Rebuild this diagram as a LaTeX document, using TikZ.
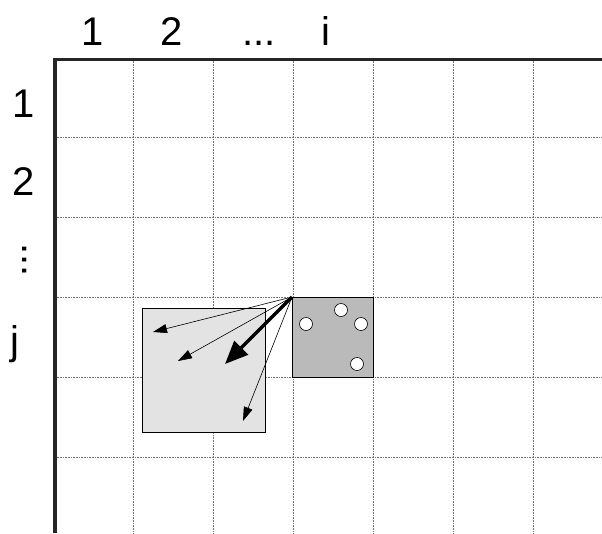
\documentclass[tikz,border=0pt]{standalone}
\usepackage{fontspec}
\setmainfont{Liberation Sans}
\usetikzlibrary{arrows.meta}
\begin{document}
\begin{tikzpicture}[x=1pt,y=-1pt,
  lbl/.style={inner sep=0pt,anchor=base,font=\fontsize{40}{40}\selectfont},
  gridline/.style={densely dotted,line width=0.6pt,black!55},
  axisline/.style={line width=3.5pt,black!85},
  thinarrow/.style={line width=0.6pt,-{Triangle[length=14pt,width=9pt]}},
  thickarrow/.style={line width=3.5pt,-{Triangle[length=23pt,width=19pt]}},
  hole/.style={circle,draw,fill=white,minimum size=13pt,inner sep=0pt,line width=0.6pt}]
\useasboundingbox (0,0) rectangle (602,533);
% grid
\foreach \x in {133,213,293,373,453,533} \draw[gridline] (\x,59) -- (\x,533);
\foreach \y in {137,217,297,377,457} \draw[gridline] (55,\y) -- (602,\y);
% axes
\draw[axisline] (55,533) -- (55,59.5) -- (602,59.5);
% labels
\node[lbl] (c1) at (93,45) {1};
\node[lbl] (c2) at (172,45) {2};
\node[lbl] (cd) at (259,45) {...};
\node[lbl] (ci) at (326,45) {i};
\node[lbl] (r1) at (24,117) {1};
\node[lbl] (r2) at (24,195) {2};
\node[lbl,anchor=center,rotate=-90] (rd) at (25,260) {...};
\node[lbl] (rj) at (15,354) {j};
% boxes
\draw[fill=black!11,line width=0.7pt] (142,308) rectangle (265,432);
\draw[fill=black!27,line width=0.8pt] (292,297) rectangle (373,377);
\node[hole] (h1) at (341,310) {};
\node[hole] (h2) at (306,324) {};
\node[hole] (h3) at (361,324) {};
\node[hole] (h4) at (357,364) {};
% arrows
\coordinate (src) at (292,297);
\coordinate (t1) at (153,332);
\coordinate (t2) at (178,361);
\coordinate (t3) at (225,364);
\coordinate (t4) at (243,421);
\draw[thinarrow] (src) -- (t1);
\draw[thinarrow] (src) -- (t2);
\draw[thinarrow] (src) -- (t4);
\draw[thickarrow] (src) -- (t3);
\end{tikzpicture}
\end{document}
